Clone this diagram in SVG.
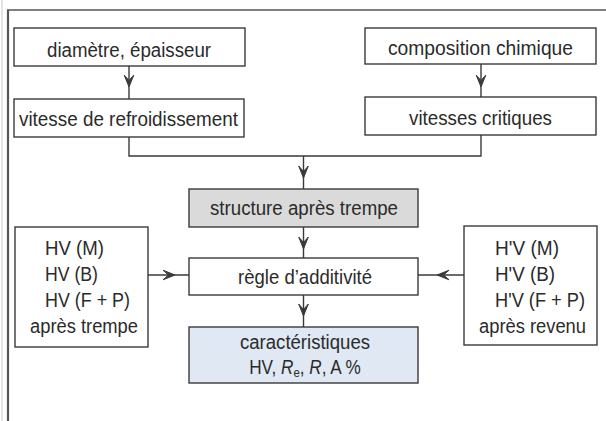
<svg xmlns="http://www.w3.org/2000/svg" width="606" height="421" viewBox="0 0 606 421">
  <style>
    .box { fill: #ffffff; stroke: #3a3a3a; stroke-width: 1.4; }
    .grey { fill: #dadada; }
    .blue { fill: #dfe8f3; }
    .lbl { font-family: "Liberation Sans", "Noto Sans", sans-serif; font-size: 19.5px; fill: #2b2b2b; }
    .mid { text-anchor: middle; }
    .wire { fill: none; stroke: #3a3a3a; stroke-width: 1.4; }
    .frame { fill: none; stroke: #555; }
  </style>
  <defs>
    <marker id="head" viewBox="-13 -6 15 12" refX="0" refY="0" markerWidth="15" markerHeight="12" markerUnits="userSpaceOnUse" orient="auto">
      <path d="M0,0 L-12,-4.8 L-6.5,0 L-12,4.8 Z" fill="#3a3a3a" stroke="#3a3a3a" stroke-width="1" stroke-linejoin="round"/>
    </marker>
  </defs>

  <rect x="0" y="0" width="606" height="421" fill="#ffffff"/>

  <!-- page frame -->
  <g id="frame">
    <line class="frame" x1="7" y1="10" x2="606" y2="10" stroke-width="1.3"/>
    <line class="frame" x1="8" y1="10" x2="8" y2="421" stroke-width="2.2" stroke="#7a7a7a"/>
    <line x1="2" y1="0" x2="2" y2="421" stroke="#e4e4e4" stroke-width="2"/>
  </g>

  <!-- connectors -->
  <g id="connectors">
    <path class="wire" d="M129,66 L129,87 L129,99" marker-mid="url(#head)"/>
    <path class="wire" d="M481,64 L481,87 L481,97" marker-mid="url(#head)"/>
    <path class="wire" d="M129,137 L129,156 L481,156 L481,135"/>
    <path class="wire" d="M303.5,156 L303.5,178 L303.5,189" marker-mid="url(#head)"/>
    <path class="wire" d="M303.5,227 L303.5,249 L303.5,258" marker-mid="url(#head)"/>
    <path class="wire" d="M303.5,295 L303.5,316 L303.5,327" marker-mid="url(#head)"/>
    <path class="wire" d="M148,275 L175,275 L189,275" marker-mid="url(#head)"/>
    <path class="wire" d="M464,275 L437,275 L418,275" marker-mid="url(#head)"/>
  </g>

  <g id="diametre">
    <rect class="box" x="14" y="28" width="231" height="38"/>
    <text class="lbl mid" x="129" y="57" textLength="164" lengthAdjust="spacingAndGlyphs">diamètre, épaisseur</text>
  </g>

  <g id="refroidissement">
    <rect class="box" x="14" y="99" width="230" height="38"/>
    <text class="lbl mid" x="128.5" y="126" textLength="219" lengthAdjust="spacingAndGlyphs">vitesse de refroidissement</text>
  </g>

  <g id="composition">
    <rect class="box" x="365" y="28" width="231" height="36"/>
    <text class="lbl mid" x="480.5" y="55" textLength="185" lengthAdjust="spacingAndGlyphs">composition chimique</text>
  </g>

  <g id="critiques">
    <rect class="box" x="365" y="97" width="231" height="38"/>
    <text class="lbl mid" x="480.5" y="125" textLength="143" lengthAdjust="spacingAndGlyphs">vitesses critiques</text>
  </g>

  <g id="structure">
    <rect class="box grey" x="189" y="189" width="229" height="38"/>
    <text class="lbl mid" x="304" y="215" textLength="188" lengthAdjust="spacingAndGlyphs">structure après trempe</text>
  </g>

  <g id="regle">
    <rect class="box" x="189" y="258" width="229" height="37"/>
    <text class="lbl mid" x="305" y="284" textLength="134" lengthAdjust="spacingAndGlyphs">règle d’additivité</text>
  </g>

  <g id="caracteristiques">
    <rect class="box blue" x="189" y="327" width="229" height="56"/>
    <text class="lbl mid" x="305" y="349" textLength="130" lengthAdjust="spacingAndGlyphs">caractéristiques</text>
    <!-- second line compressed as a whole so the subscript keeps its place -->
    <text class="lbl mid" transform="translate(305,374) scale(0.88,1)" x="0" y="0">HV, <tspan font-style="italic">R</tspan><tspan font-size="13" dy="3">e</tspan><tspan dy="-3">, </tspan><tspan font-style="italic">R</tspan>, A %</text>
  </g>

  <g id="trempe">
    <rect class="box" x="15" y="227" width="133" height="120"/>
    <text class="lbl" x="45" y="255" textLength="59" lengthAdjust="spacingAndGlyphs">HV (M)</text>
    <text class="lbl" x="45" y="281" textLength="53" lengthAdjust="spacingAndGlyphs">HV (B)</text>
    <text class="lbl" x="45" y="307" textLength="85" lengthAdjust="spacingAndGlyphs">HV (F + P)</text>
    <text class="lbl" x="30" y="333" textLength="108" lengthAdjust="spacingAndGlyphs">après trempe</text>
  </g>

  <g id="revenu">
    <rect class="box" x="464" y="226" width="133" height="119"/>
    <text class="lbl" x="495" y="255" textLength="64" lengthAdjust="spacingAndGlyphs">H'V (M)</text>
    <text class="lbl" x="495" y="281" textLength="60" lengthAdjust="spacingAndGlyphs">H'V (B)</text>
    <text class="lbl" x="495" y="307" textLength="90" lengthAdjust="spacingAndGlyphs">H'V (F + P)</text>
    <text class="lbl" x="479" y="333" textLength="107" lengthAdjust="spacingAndGlyphs">après revenu</text>
  </g>
</svg>
